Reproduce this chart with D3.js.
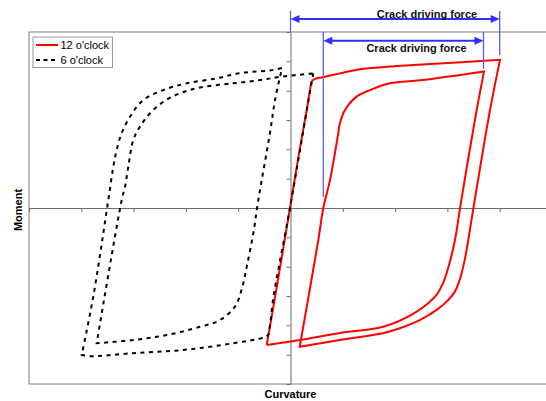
<!DOCTYPE html>
<html><head><meta charset="utf-8">
<script src="https://cdn.jsdelivr.net/npm/d3@7"></script>
<style>body{margin:0;background:#fff}svg{display:block}text{font-family:Arial,"Liberation Sans",sans-serif}</style>
</head><body><svg id="c" width="546" height="401"></svg>
<script>
// ---- data (curvature / moment, in tick units) ----
const seriesNames = ["12 o'clock", "6 o'clock"];
const redCurvature = [-0.455,-0.289,-0.01,0.174,0.31,0.373,0.405,0.468,0.627,0.946,1.329,1.897,2.853,4.006,3.815,3.522,3.331,3.235,3.14,2.979,2.788,2.47,2.088,1.769,0.941,0.176,0.532,0.627,0.755,0.86,0.908,0.946,1.042,1.252,1.52,1.902,2.533,3.7,3.56,3.266,3.145,3.031,2.916,2.788,2.405,1.769,0.946,0.182,-0.455];
const redMoment = [-4.67,-2.97,0,1.98,3.34,4.02,4.31,4.40,4.46,4.59,4.73,4.82,4.93,5.05,3.34,0.27,-1.77,-2.45,-2.86,-3.20,-3.48,-3.82,-4.10,-4.27,-4.50,-4.73,-1.09,0,0.95,1.98,2.49,2.90,3.34,3.78,4.02,4.25,4.36,4.65,3.34,0.27,-1.09,-1.94,-2.56,-2.97,-3.54,-4.05,-4.26,-4.50,-4.67];
const redCornerIndex = [0, 13, 25, 37, 48];
const blackCurvature = [0.436,0.373,-0.01,-0.329,-0.392,-0.43,-0.52,-1.094,-2.05,-3.006,-3.834,-3.992,-3.771,-3.484,-3.388,-3.323,-3.228,-3.069,-2.815,-2.432,-1.985,-1.411,-0.966,-0.392,-0.163,-0.296,-0.392,-0.616,-0.711,-0.837,-0.927,-1.061,-1.348,-1.73,-2.367,-3.006,-3.706,-3.228,-3.164,-3.101,-3.006,-2.878,-2.686,-2.432,-2.113,-1.73,-1.099,-0.583,-0.201,0.436];
const blackMoment = [4.59,3.97,0,-3.07,-3.99,-4.33,-4.42,-4.61,-4.84,-4.95,-5.05,-5.01,-3.02,0.27,1.41,1.98,2.55,3.11,3.68,4.02,4.25,4.42,4.60,4.69,4.77,3.68,2.56,0.27,-0.86,-2.00,-2.73,-3.36,-3.82,-4.05,-4.33,-4.50,-4.61,0.27,0.73,1.41,2.32,2.77,3.23,3.62,3.91,4.11,4.25,4.36,4.47,4.59];
const blackCornerIndex = [0, 11, 24, 36, 49];
const xTickValues = [-5,-4,-3,-2,-1,0,1,2,3,4,5];
const yTickValues = [-6,-5,-4,-3,-2,-1,0,1,2,3,4,5,6];
const crackLabels = ["Crack driving force", "Crack driving force"];
const crackFrom = [0, 0.627];
const crackTo = [4.0, 3.69];
const crackArrowLevel = [6.44, 5.70];
const crackLeftLineTop = [6.72, 6.0];
const crackLeftLineBottom = [6.0, 0.375];
const crackRightLineTop = [6.72, 6.0];
const crackRightLineBottom = [5.22, 4.74];
const crackLabelX = [2.61, 2.41];
const crackLabelY = [6.49, 5.32];
const axisTitles = ["Curvature", "Moment"];

// ---- drawing ----
const svg = d3.select("#c");
const x = d3.scaleLinear().domain([-5, 5]).range([29, 552]);
const y = d3.scaleLinear().domain([-6, 6]).range([384, 32]);

svg.append("rect").attr("x", x(-5)).attr("y", y(6))
  .attr("width", x(5) - x(-5)).attr("height", y(-6) - y(6))
  .attr("fill", "none").attr("stroke", "#7f7f7f").attr("stroke-width", 1);

const gx = svg.append("g").attr("transform", `translate(0,${y(0)})`)
  .call(d3.axisBottom(x).tickValues(xTickValues).tickSize(4).tickSizeOuter(0).tickFormat(""));
const gy = svg.append("g").attr("transform", `translate(${x(0)},0)`)
  .call(d3.axisLeft(y).tickValues(yTickValues).tickSize(4).tickSizeOuter(0).tickFormat(""));
[gx, gy].forEach(g => { g.selectAll("path,line").attr("stroke", "#6b6b6b"); });

// smooth between corners, sharp at corners, one continuous subpath
function loopPath(xs, ys, corners) {
  const pts = xs.map((c, i) => [c, ys[i]]);
  const p = d3.path();
  let started = false;
  const ctx = {
    moveTo(a, b) { if (started) p.lineTo(a, b); else { p.moveTo(a, b); started = true; } },
    lineTo(a, b) { p.lineTo(a, b); },
    bezierCurveTo(a, b, c, d, e, f) { p.bezierCurveTo(a, b, c, d, e, f); },
    closePath() { p.closePath(); }
  };
  const ln = d3.line().x(d => x(d[0])).y(d => y(d[1]))
    .curve(d3.curveCatmullRom.alpha(0.5)).context(ctx);
  for (let k = 0; k < corners.length - 1; k++) ln(pts.slice(corners[k], corners[k + 1] + 1));
  return p.toString();
}

svg.append("path").attr("d", loopPath(redCurvature, redMoment, redCornerIndex)).attr("fill", "none")
  .attr("stroke", "#ff0000").attr("stroke-width", 2).attr("stroke-linejoin", "miter");
svg.append("path").attr("d", loopPath(blackCurvature, blackMoment, blackCornerIndex)).attr("fill", "none")
  .attr("stroke", "#000").attr("stroke-width", 2).attr("stroke-dasharray", "4,4.5");

// crack driving force annotations
const blue = "#2f2fff";
crackLabels.forEach((lab, i) => {
  svg.append("line").attr("x1", x(crackFrom[i])).attr("x2", x(crackFrom[i]))
    .attr("y1", y(crackLeftLineTop[i])).attr("y2", y(crackLeftLineBottom[i]))
    .attr("stroke", "#5a5aff").attr("stroke-width", 1.3);
  svg.append("line").attr("x1", x(crackTo[i])).attr("x2", x(crackTo[i]))
    .attr("y1", y(crackRightLineTop[i])).attr("y2", y(crackRightLineBottom[i]))
    .attr("stroke", "#5a5aff").attr("stroke-width", 1.3);
  const ay = y(crackArrowLevel[i]), ax0 = x(crackFrom[i]), ax1 = x(crackTo[i]);
  svg.append("line").attr("x1", ax0 + 4).attr("x2", ax1 - 4).attr("y1", ay).attr("y2", ay)
    .attr("stroke", blue).attr("stroke-width", 2);
  svg.append("path").attr("d", `M${ax0},${ay}L${ax0 + 9},${ay - 4}L${ax0 + 9},${ay + 4}Z`).attr("fill", blue);
  svg.append("path").attr("d", `M${ax1},${ay}L${ax1 - 9},${ay - 4}L${ax1 - 9},${ay + 4}Z`).attr("fill", blue);
  svg.append("text").attr("x", x(crackLabelX[i])).attr("y", y(crackLabelY[i]))
    .attr("text-anchor", "middle").attr("font-size", 11).attr("font-weight", "bold")
    .attr("fill", "#111").text(lab);
});

// axis titles
svg.append("text").attr("x", x(0)).attr("y", 398).attr("text-anchor", "middle")
  .attr("font-size", 11).attr("font-weight", "bold").text(axisTitles[0]);
svg.append("text").attr("transform", `translate(22,${y(0) + 2}) rotate(-90)`).attr("text-anchor", "middle")
  .attr("font-size", 11).attr("font-weight", "bold").text(axisTitles[1]);

// legend
const lg = svg.append("g").attr("transform", "translate(33,37)");
lg.append("rect").attr("width", 79.5).attr("height", 30.5).attr("fill", "#fff")
  .attr("stroke", "#9a9a9a").attr("stroke-width", 1);
const legendStyles = [{ c: "#ff0000", dash: null }, { c: "#000", dash: "4,3.5" }];
seriesNames.forEach((n, i) => {
  const ly = 8 + i * 15;
  lg.append("line").attr("x1", 3).attr("x2", 25).attr("y1", ly).attr("y2", ly)
    .attr("stroke", legendStyles[i].c).attr("stroke-width", 2)
    .attr("stroke-dasharray", legendStyles[i].dash);
  lg.append("text").attr("x", 27.5).attr("y", ly + 4).attr("font-size", 11).text(n);
});
</script></body></html>
